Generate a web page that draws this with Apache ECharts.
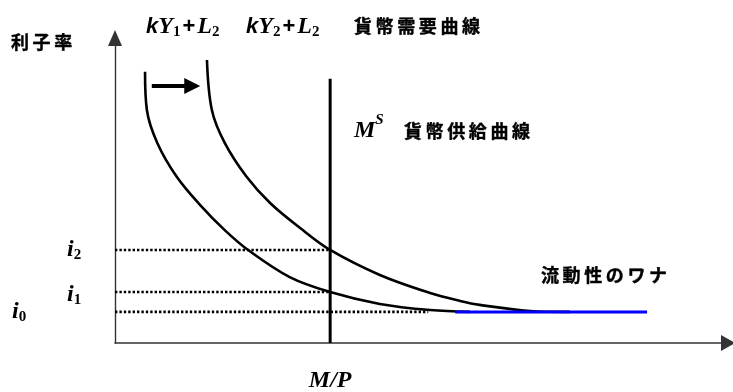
<!DOCTYPE html>
<html>
<head>
<meta charset="utf-8">
<script src="https://cdn.jsdelivr.net/npm/echarts@6/dist/echarts.min.js"></script>
<style>
  html, body { margin: 0; padding: 0; background: #fff; }
  #chart { width: 733px; height: 392px; }
</style>
</head>
<body>
<div id="chart"></div>
<script>
// Money demand curve kY1 + L2 (quantity of money, interest rate)
const demandY1 = [[4.9, 88.9], [5.2, 76.4], [6.9, 65.6], [10.1, 54.4], [13.9, 45.2], [17.9, 37.0],
                  [21.7, 30.5], [28.5, 21.6], [35.1, 16.7], [43.2, 12.8], [51.4, 10.8], [57.9, 10.2]];
// Money demand curve kY2 + L2 after income rises
const demandY2 = [[15.0, 92.8], [15.8, 76.4], [17.9, 65.6], [21.5, 54.4], [25.3, 45.9], [30.2, 37.7],
                  [35.1, 30.5], [43.2, 22.3], [51.4, 16.4], [56.3, 13.8], [59.5, 12.5], [67.7, 10.5], [74.2, 10.2]];
// Real money supply M/P (vertical supply line)
const moneySupply = 35.1;
const supplyTop = 86.6;
// Interest rate levels i0, i1, i2
const rateNames = ['0', '1', '2'];
const rateValues = [10.2, 16.7, 30.5];
// Where each dotted guide line stops
const guideEnds = [51.1, 35.1, 35.1];
// Liquidity trap stretch along i0
const trapRange = [55.5, 86.8];
// Rightward shift of the demand curve
const shiftArrow = [[6.0, 84.3], [12.6, 84.3]];

const cjk = "'Noto Sans CJK JP', 'Noto Sans CJK SC', sans-serif";
const spaced = s => s.split('').join('\u2009');

const chart = echarts.init(document.getElementById('chart'), null, { renderer: 'canvas' });

const axisCommon = {
  type: 'value', min: 0, max: 100,
  axisTick: { show: false }, axisLabel: { show: false }, splitLine: { show: false }
};

const series = [];
rateValues.forEach((v, k) => {
  series.push({
    type: 'line', symbol: 'none', silent: true,
    data: [[0, v], [guideEnds[k], v]],
    lineStyle: { color: '#000', width: 2.6, type: [2.4, 2] }
  });
});
series.push({
  type: 'line', symbol: 'none', silent: true,
  data: [[moneySupply, 0], [moneySupply, supplyTop]],
  lineStyle: { color: '#000', width: 3 }
});
[demandY1, demandY2].forEach(d => {
  series.push({
    type: 'line', symbol: 'none', silent: true, smooth: 0.35,
    data: d,
    lineStyle: { color: '#000', width: 2.6 }
  });
});
series.push({
  type: 'line', symbol: 'none', silent: true,
  data: [[trapRange[0], rateValues[0]], [trapRange[1], rateValues[0]]],
  lineStyle: { color: '#0000ff', width: 3 }
});
series.push({
  type: 'lines', coordinateSystem: 'cartesian2d', silent: true,
  symbol: ['none', 'triangle'], symbolSize: [15, 16],
  data: [{ coords: shiftArrow }],
  lineStyle: { color: '#000', width: 4, opacity: 1 }
});

chart.setOption({
  animation: false,
  backgroundColor: '#fff',
  grid: { left: 115, right: 5, top: 38, bottom: 49 },
  xAxis: Object.assign({}, axisCommon, {
    axisLine: { show: true, onZero: false, symbol: ['none', 'triangle'], symbolSize: [16, 14],
                lineStyle: { color: '#333', width: 1.6 } }
  }),
  yAxis: Object.assign({}, axisCommon, {
    axisLine: { show: true, onZero: false, symbol: ['none', 'triangle'], symbolSize: [14, 16],
                lineStyle: { color: '#333', width: 1.4 } }
  }),
  series: series
});

// Text styles for the formula-like labels
const mathRich = {
  k: { fontFamily: 'Liberation Sans', fontStyle: 'italic', fontWeight: 'bold', fontSize: 22, lineHeight: 26 },
  v: { fontFamily: 'Liberation Serif', fontStyle: 'italic', fontWeight: 'bold', fontSize: 24, lineHeight: 26 },
  vt: { fontFamily: 'Liberation Serif', fontStyle: 'italic', fontWeight: 'bold', fontSize: 24, lineHeight: 36 },
  s: { fontFamily: 'Liberation Serif', fontWeight: 'bold', fontSize: 15, lineHeight: 15, verticalAlign: 'bottom' },
  up: { fontFamily: 'Liberation Serif', fontStyle: 'italic', fontWeight: 'bold', fontSize: 15, lineHeight: 15, verticalAlign: 'top' },
  p: { fontFamily: 'Liberation Sans', fontWeight: 'bold', fontSize: 22, lineHeight: 26, padding: [0, 2, 0, 2] }
};

function text(x, y, str, extra) {
  return {
    type: 'text', x: x, y: y, silent: true,
    style: Object.assign({ text: str, fill: '#000', align: 'left', verticalAlign: 'middle' }, extra)
  };
}
const jp = { fontFamily: cjk, fontSize: 18, fontWeight: 'bold', stroke: '#000', lineWidth: 0.4 };
const math = { rich: mathRich, fontSize: 24 };

const toPx = p => chart.convertToPixel({ gridIndex: 0 }, p);
const graphics = [
  text(11, 42, spaced('利子率'), jp),
  text(146, 27, '{k|k}{v|Y}{s|1}{p|+}{v|L}{s|2}', math),
  text(246, 27, '{k|k}{v|Y}{s|2}{p|+}{v|L}{s|2}', math),
  text(354, 26, spaced('貨幣需要曲線'), jp),
  text(354, 131, '{vt|M}{up|S}', math),
  text(404, 131, spaced('貨幣供給曲線'), jp),
  text(541, 275, spaced('流動性のワナ'), jp)
];
rateValues.forEach((v, k) => {
  const y = toPx([0, v])[1];
  const x = k === 0 ? 12 : 67;
  graphics.push(text(x, y + (k === 1 ? 3 : 0), '{v|i}{s|' + rateNames[k] + '}', math));
});
const mpX = toPx([moneySupply, 0])[0];
graphics.push(text(mpX, 381, 'M/P', {
  align: 'center', fontFamily: 'Liberation Serif', fontStyle: 'italic', fontWeight: 'bold', fontSize: 24
}));

chart.setOption({ graphic: graphics });
</script>
</body>
</html>
